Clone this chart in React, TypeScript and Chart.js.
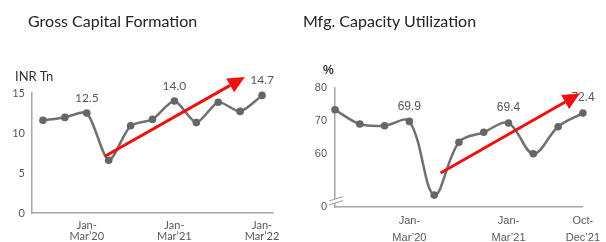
import React, { useEffect, useRef } from 'react';
import { Chart, registerables } from 'chart.js';
Chart.register(...registerables);

// ---- Gross Capital Formation (INR Tn) ----
const gcfQuarters = ["Jul-Sep’19", "Oct-Dec’19", "Jan-Mar’20", "Apr-Jun’20", "Jul-Sep’20", "Oct-Dec’20", "Jan-Mar’21", "Apr-Jun’21", "Jul-Sep’21", "Oct-Dec’21", "Jan-Mar’22"];
const gcfValues = [11.6, 11.95, 12.5, 6.6, 10.9, 11.7, 14.0, 11.3, 13.85, 12.7, 14.7];
const gcfTicks = [0, 5, 10, 15];
const gcfShownQuarters = ["Jan-Mar’20", "Jan-Mar’21", "Jan-Mar’22"];
const gcfLabeledIdx = [2, 6, 10];
const gcfArrow = [[2.83, 7.1], [9.22, 17.0]];

// ---- Mfg. Capacity Utilization (%) ----
const mcuQuarters = ["Apr-Jun’19", "Jul-Sep’19", "Oct-Dec’19", "Jan-Mar’20", "Apr-Jun’20", "Jul-Sep’20", "Oct-Dec’20", "Jan-Mar’21", "Apr-Jun’21", "Jul-Sep’21", "Oct-Dec’21"];
const mcuValues = [73.4, 69.1, 68.6, 69.9, 47.6, 63.6, 66.6, 69.4, 60.1, 68.3, 72.4];
const mcuTicks = [60, 70, 80];
const mcuBreakBase = 44; // axis is broken; bottom labelled "0"
const mcuShownQuarters = ["Jan-Mar’20", "Jan-Mar’21", "Oct-Dec’21"];
const mcuLabeledIdx = [3, 7, 10];
const mcuArrow = [[4.26, 54.3], [9.88, 78.3]];

const LINE = '#707070';
const TICK = '#595959';
const AXIS = '#a6a6a6';

function splitLabel(l: string) {
  const i = l.indexOf('-');
  return [l.slice(0, i + 1), l.slice(i + 1)];
}

function makePlugins(labeledIdx: number[], arrow: number[][], labelFont: string, brk: number | null) {
  return [
    {
      id: 'valueLabels',
      afterDatasetsDraw(chart: any) {
        const ctx = chart.ctx;
        const meta = chart.getDatasetMeta(0);
        const data = chart.data.datasets[0].data;
        ctx.save();
        ctx.font = labelFont;
        ctx.fillStyle = TICK;
        ctx.textAlign = 'center';
        ctx.textBaseline = 'middle';
        labeledIdx.forEach((i) => {
          const p = meta.data[i];
          ctx.fillText(Number(data[i]).toFixed(1), p.x, p.y - 15);
        });
        ctx.restore();
      },
    },
    {
      id: 'arrowAndBreak',
      afterDraw(chart: any) {
        const ctx = chart.ctx;
        const xs = chart.scales.x, ys = chart.scales.y;
        if (brk !== null) {
          const ax = xs.left;
          const yb = ys.bottom - 4;
          ctx.save();
          ctx.fillStyle = '#ffffff';
          ctx.beginPath();
          ctx.moveTo(ax - 6, yb + 2);
          ctx.lineTo(ax + 8, yb - 2.5);
          ctx.lineTo(ax + 8, yb - 6.5);
          ctx.lineTo(ax - 6, yb - 2);
          ctx.closePath();
          ctx.fill();
          ctx.strokeStyle = AXIS;
          ctx.lineWidth = 1.2;
          ctx.beginPath();
          ctx.moveTo(ax - 6, yb + 2); ctx.lineTo(ax + 8, yb - 2.5);
          ctx.moveTo(ax - 6, yb - 2); ctx.lineTo(ax + 8, yb - 6.5);
          ctx.stroke();
          ctx.restore();
        }
        const x0 = xs.getPixelForValue(arrow[0][0]);
        const y0 = ys.getPixelForValue(arrow[0][1]);
        const x1 = xs.getPixelForValue(arrow[1][0]);
        const y1 = ys.getPixelForValue(arrow[1][1]);
        const ang = Math.atan2(y1 - y0, x1 - x0);
        const hl = 17, hw = 8;
        const bx = x1 - hl * Math.cos(ang), by = y1 - hl * Math.sin(ang);
        ctx.save();
        ctx.strokeStyle = '#f01010';
        ctx.fillStyle = '#f01010';
        ctx.lineWidth = 3;
        ctx.beginPath();
        ctx.moveTo(x0, y0);
        ctx.lineTo(bx, by);
        ctx.stroke();
        ctx.beginPath();
        ctx.moveTo(x1, y1);
        ctx.lineTo(bx + hw * Math.sin(ang), by - hw * Math.cos(ang));
        ctx.lineTo(bx - hw * Math.sin(ang), by + hw * Math.cos(ang));
        ctx.closePath();
        ctx.fill();
        ctx.restore();
      },
    },
  ];
}

function LineChart(props: {
  labels: string[]; values: number[]; ticks: number[]; shown: string[]; labeledIdx: number[]; arrow: number[][];
  min: number; max: number; offset: boolean; tension: number; padding: any; yWidth: number; xHeight: number;
  tickFont: string; brk: number | null; width: number; xPad: number; xLineHeight: number; yPad: number;
}) {
  const ref = useRef<HTMLCanvasElement | null>(null);
  useEffect(() => {
    if (!ref.current) return;
    const p = props;
    const chart = new Chart(ref.current, {
      type: 'line',
      data: {
        labels: p.labels,
        datasets: [{
          data: p.values,
          borderColor: LINE,
          borderWidth: 2.5,
          pointRadius: 3.8,
          pointBackgroundColor: '#666666',
          pointBorderColor: '#666666',
          pointBorderWidth: 0,
          tension: p.tension,
          clip: false as any,
        }],
      },
      options: {
        responsive: false,
        animation: false,
        devicePixelRatio: 1,
        layout: { padding: p.padding },
        plugins: { legend: { display: false }, tooltip: { enabled: false }, title: { display: false } },
        scales: {
          x: {
            offset: p.offset,
            grid: { display: false, drawTicks: false },
            border: { display: true, color: AXIS, width: 1.5 },
            afterFit: (s: any) => { s.height = p.xHeight; },
            ticks: {
              autoSkip: false,
              maxRotation: 0,
              padding: p.xPad,
              color: TICK,
              font: { family: p.tickFont, size: 11, lineHeight: p.xLineHeight },
              callback: (v: any, i: number) => (p.shown.includes(p.labels[i]) ? splitLabel(p.labels[i]) : ''),
            },
          },
          y: {
            min: p.min,
            max: p.max,
            grid: { display: false, drawTicks: false },
            border: { display: true, color: AXIS, width: 1.5 },
            afterFit: (s: any) => { s.width = p.yWidth; },
            afterBuildTicks: (s: any) => {
              const t = p.brk !== null ? [p.brk, ...p.ticks] : p.ticks;
              s.ticks = t.map((v) => ({ value: v }));
            },
            ticks: {
              padding: p.yPad,
              color: TICK,
              font: { family: p.tickFont, size: 11 },
              callback: (v: any) => (p.brk !== null && v === p.brk ? '0' : String(v)),
            },
          },
        },
      },
      plugins: makePlugins(p.labeledIdx, p.arrow, `12px ${p.tickFont}`, p.brk) as any,
    });
    return () => chart.destroy();
  }, []);
  return <canvas ref={ref} width={props.width} height={242} style={{ display: 'block', width: props.width, height: 242 }} />;
}

export default function App() {
  const titleStyle: React.CSSProperties = {
    position: 'absolute', top: 11, fontFamily: 'Lato, sans-serif', fontSize: 16, color: '#222', whiteSpace: 'nowrap',
  };
  return (
    <div style={{ position: 'fixed', left: 0, top: 0, width: 606, height: 242, background: '#fff', overflow: 'hidden' }}>
      <div style={{ position: 'absolute', left: 0, top: 0 }}>
        <LineChart labels={gcfQuarters} values={gcfValues} ticks={gcfTicks} shown={gcfShownQuarters}
          labeledIdx={gcfLabeledIdx} arrow={gcfArrow} min={0} max={15} offset={true} tension={0.25}
          padding={{ top: 93, right: 27, left: 0, bottom: 0 }} yWidth={32} xHeight={29}
          tickFont={'Lato, sans-serif'} brk={null} width={300} xPad={7} xLineHeight={1.0} yPad={7} />
      </div>
      <div style={{ position: 'absolute', left: 300, top: 0 }}>
        <LineChart labels={mcuQuarters} values={mcuValues} ticks={mcuTicks} shown={mcuShownQuarters}
          labeledIdx={mcuLabeledIdx} arrow={mcuArrow} min={mcuBreakBase} max={80} offset={false} tension={0.35}
          padding={{ top: 88, right: 21, left: 0, bottom: 0 }} yWidth={35} xHeight={35}
          tickFont={'"Liberation Sans", Arial, sans-serif'} brk={mcuBreakBase} width={306} xPad={6} xLineHeight={1.5} yPad={8} />
      </div>
      <div style={{ ...titleStyle, left: 28 }}>Gross Capital Formation</div>
      <div style={{ ...titleStyle, left: 303 }}>Mfg. Capacity Utilization</div>
      <div style={{ position: 'absolute', left: 15, top: 68, fontFamily: 'Lato, sans-serif', fontSize: 13, color: '#333' }}>INR Tn</div>
      <div style={{ position: 'absolute', left: 323, top: 63, fontFamily: '"Liberation Sans", Arial, sans-serif', fontSize: 12, fontWeight: 'bold', color: '#333' }}>%</div>
    </div>
  );
}
